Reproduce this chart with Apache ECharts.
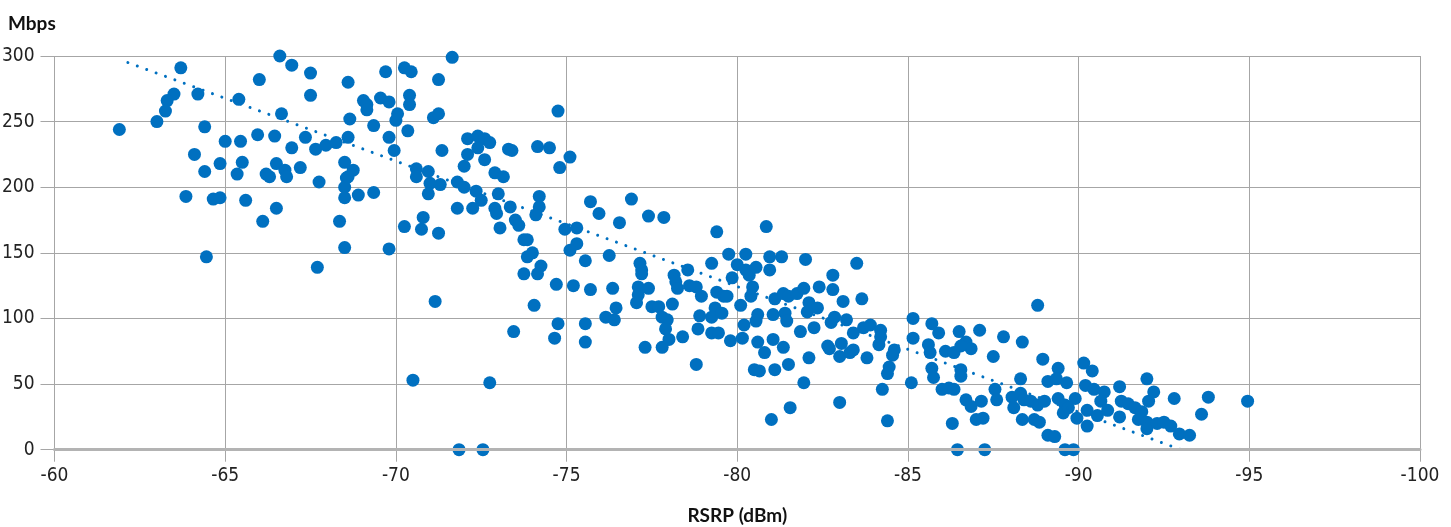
<!DOCTYPE html>
<html>
<head>
<meta charset="utf-8">
<script src="https://cdn.jsdelivr.net/npm/echarts@6/dist/echarts.min.js"></script>
<style>
html,body{margin:0;padding:0;background:#fff;}
#chart{width:1451px;height:527px;}
</style>
</head>
<body>
<div id="chart"></div>
<script>
// RSRP (dBm) / Mbps pairs
const rsrp = [
-61.9,-63.0,-63.7,-63.5,-63.3,-63.25,-64.2,-64.4,-64.1,-64.4,-63.85,-64.45,-65.0,-65.45,-65.4,-64.85,-65.5,-65.35,-64.65,-64.85,-65.6,-66.0,-66.6,-66.95,-67.5,-67.5,-66.65,-65.95,-66.45,-66.95,-67.35,-67.65,-67.95,-68.25,-68.6,-68.6,-68.65,-66.5,-66.2,-66.3,-66.75,-66.8,-67.2,-67.75,-66.5,-66.1,-68.35,-68.5,-67.7,-68.5,-68.55,-68.5,-68.5,
-69.7,-70.25,-70.45,-71.25,-71.65,-69.05,-69.15,-69.15,-69.55,-69.8,-70.4,-70.4,-70.05,-70.0,-71.1,-71.25,-74.75,-69.35,-69.8,-70.35,-69.95,-71.35,-68.75,-68.6,-68.9,-69.35,-69.8,-70.6,-70.6,-70.95,-71.0,-70.95,-71.3,-70.8,-70.75,-70.25,-71.25,-71.15,-70.5,-71.85,-72.55,-72.75,-72.1,-72.4,-72.6,-72.75,-72.4,-72.1,-72.6,-72.0,-71.8,-72.0,-72.35,-72.5,-71.8,-72.25,-72.9,-73.15,-73.3,-73.4,-73.0,-72.9,-72.95,-73.35,-73.05,-73.5,-73.6,-73.75,-73.85,-74.0,-73.85,-74.25,-74.15,-73.75,-74.7,-74.05,-73.45,-74.75,-74.65,-74.15,-74.5,-74.8,-75.1,-74.2,-74.2,-74.1,-74.95,-75.3,-75.3,-75.1,-75.55,-75.2,-75.7,-75.55,-75.55,-75.7,
-75.95,-76.55,-76.9,-77.4,-77.85,-76.25,-76.35,-76.45,-76.15,-76.4,-77.15,-77.2,-77.2,-77.1,-77.4,-77.1,-77.05,-77.5,-77.7,-77.8,-77.95,-78.1,-77.9,-78.0,-77.3,-77.8,-78.4,-78.8,-78.15,-78.2,-78.25,-78.55,-78.6,-78.8,-78.95,-78.9,-78.85,-79.25,-79.4,-79.75,-79.4,-79.6,-79.7,-79.85,-79.35,-79.25,-79.55,-79.25,-79.45,-79.8,-80.15,-80.2,-80.1,-80.0,-80.25,-80.25,-80.35,-80.55,-80.45,-80.4,-80.85,-80.95,-80.95,-81.3,-82.0,-81.1,-81.35,-81.5,-81.75,-81.95,-82.4,-82.1,-82.35,-82.05,-80.6,-80.55,-81.05,-81.4,-81.45,-80.6,-80.8,-81.05,-81.35,-81.85,-82.25,-82.1,-80.5,-80.65,-81.1,-81.5,-81.95,-81.55,-81.0,-82.65,-82.75,
-82.8,-82.8,-83.5,-83.1,-83.65,-82.85,-83.2,-82.7,-83.05,-83.0,-83.3,-83.4,-83.4,-83.7,-83.9,-84.2,-84.15,-84.2,-83.8,-83.0,-84.6,-84.55,-84.45,-84.4,-84.25,-84.4,-85.15,-85.15,-85.1,-85.7,-85.9,-85.6,-85.65,-85.7,-85.75,-86.0,-86.2,-86.35,-86.1,-86.35,-86.5,-86.7,-86.85,-86.55,-86.55,-86.55,-86.3,-86.45,-86.7,-86.85,-87.15,-87.0,-87.2,-87.25,-87.1,-87.5,-87.55,-87.6,-87.8,-88.35,-88.95,-88.3,-88.05,-88.3,-88.4,-88.1,-88.35,-88.6,-88.8,-89.0,-88.7,-88.85,-88.8,-89.1,-89.3,-89.4,-89.1,-89.35,-89.65,-89.4,-89.6,-89.55,-89.6,-89.85,
-90.15,-90.4,-89.9,-90.2,-90.45,-90.75,-89.7,-89.95,-90.25,-90.25,-90.55,-90.65,-90.85,-91.2,-91.25,-91.45,-91.2,-91.65,-91.85,-91.75,-92.05,-92.0,-92.0,-92.2,-92.0,-92.3,-92.5,-92.7,-92.95,-93.25,-92.8,-93.6,-93.8,-94.95
];
const mbps = [
244,250,291,271,266,258,271,246,225,212,193,147,235,235,267,218,219,210,191,192,190,282,300,293,287,270,256,240,239,230,238,229,232,234,238,280,252,218,210,208,213,208,215,204,184,174,174,154,139,219,207,200,192,
288,291,288,282,299,266,263,259,268,265,270,263,256,251,253,256,258,247,238,243,228,228,213,208,194,196,153,214,208,212,203,195,202,177,168,170,165,113,53,0,0,51,237,239,237,234,230,225,221,216,204,200,197,190,184,184,211,208,229,228,195,184,180,185,169,175,171,160,160,150,147,140,134,134,126,110,90,96,85,231,230,215,223,193,185,179,168,169,157,152,144,125,122,96,82,189,
180,173,191,178,177,148,123,108,101,99,142,137,134,124,123,118,112,109,109,101,99,111,92,84,78,78,86,65,133,128,123,137,125,124,117,102,92,142,166,149,120,117,117,131,108,101,104,89,89,83,85,95,110,141,149,137,133,139,124,117,170,147,137,147,145,115,119,117,119,123,124,112,108,105,103,98,103,104,98,82,74,84,78,90,93,70,61,60,61,65,51,32,23,79,97,
133,122,142,113,115,101,99,77,81,71,74,76,89,93,95,91,80,86,70,36,76,72,63,58,46,22,100,85,51,96,89,80,74,62,55,46,47,46,75,74,90,82,77,79,61,56,20,0,38,33,37,23,24,0,91,71,46,38,86,82,69,54,40,43,38,32,23,37,34,37,23,21,110,11,10,62,52,54,51,39,34,28,0,0,
66,60,39,49,46,44,32,24,30,18,26,37,30,48,37,35,25,32,29,23,37,21,16,44,54,20,21,18,12,11,39,27,40,37
];
// dotted trend line end points
const trendX = [-62.15, -93.0];
const trendY = [295, 0];
const xTicks = [-100, -60, 5];   // min, max, step
const yTicks = [0, 300, 50];

const points = rsrp.map((x, i) => [x, mbps[i]]);
const trend = trendX.map((x, i) => [x, trendY[i]]);

const FONT = '"Liberation Sans Narrow", "DejaVu Sans", sans-serif';
const BOLD = 'Lato, "Open Sans", sans-serif';
const chart = echarts.init(document.getElementById('chart'), null, {renderer: 'canvas'});
chart.setOption({
  animation: false,
  backgroundColor: '#ffffff',
  title: {
    text: 'Mbps', left: 8, top: 14, padding: 0,
    textStyle: {fontFamily: BOLD, fontWeight: 'bold', fontSize: 19, color: '#111'}
  },
  grid: {left: 54.5, right: 31, top: 56, bottom: 77.3, containLabel: false, outerBoundsMode: 'none'},
  xAxis: [{
    type: 'value', min: xTicks[0], max: xTicks[1], interval: xTicks[2], inverse: true,
    name: 'RSRP (dBm)', nameLocation: 'middle', nameGap: 57,
    nameTextStyle: {fontFamily: BOLD, fontWeight: 'bold', fontSize: 19, color: '#111'},
    axisLine: {show: false},
    axisTick: {show: true, length: 12, lineStyle: {color: '#a6a6a6', width: 1}},
    axisLabel: {margin: 17, fontFamily: FONT, fontWeight: 'condensed', fontSize: 19, color: '#222'},
    splitLine: {show: true, lineStyle: {color: '#a6a6a6', width: 1}}
  }, {
    type: 'value', min: xTicks[0], max: xTicks[1], interval: xTicks[2], inverse: true,
    position: 'bottom', z: 10,
    axisLine: {show: true, onZero: false, lineStyle: {color: '#b3b3b3', width: 3}},
    axisTick: {show: false}, axisLabel: {show: false}, splitLine: {show: false}
  }],
  yAxis: {
    type: 'value', min: yTicks[0], max: yTicks[1], interval: yTicks[2],
    axisLine: {show: false},
    axisTick: {show: true, length: 14, lineStyle: {color: '#a6a6a6', width: 1}},
    axisLabel: {margin: 20, fontFamily: FONT, fontWeight: 'condensed', fontSize: 19, color: '#222'},
    splitLine: {show: true, lineStyle: {color: '#a6a6a6', width: 1}}
  },
  series: [{
    type: 'scatter', data: points, symbol: 'circle', symbolSize: 13,
    itemStyle: {color: '#0070c0', opacity: 1}, z: 3
  }, {
    type: 'line', data: trend, symbol: 'none', z: 4,
    lineStyle: {color: '#0070c0', width: 3, type: [0.01, 10], cap: 'round'}
  }]
});
</script>
</body>
</html>
